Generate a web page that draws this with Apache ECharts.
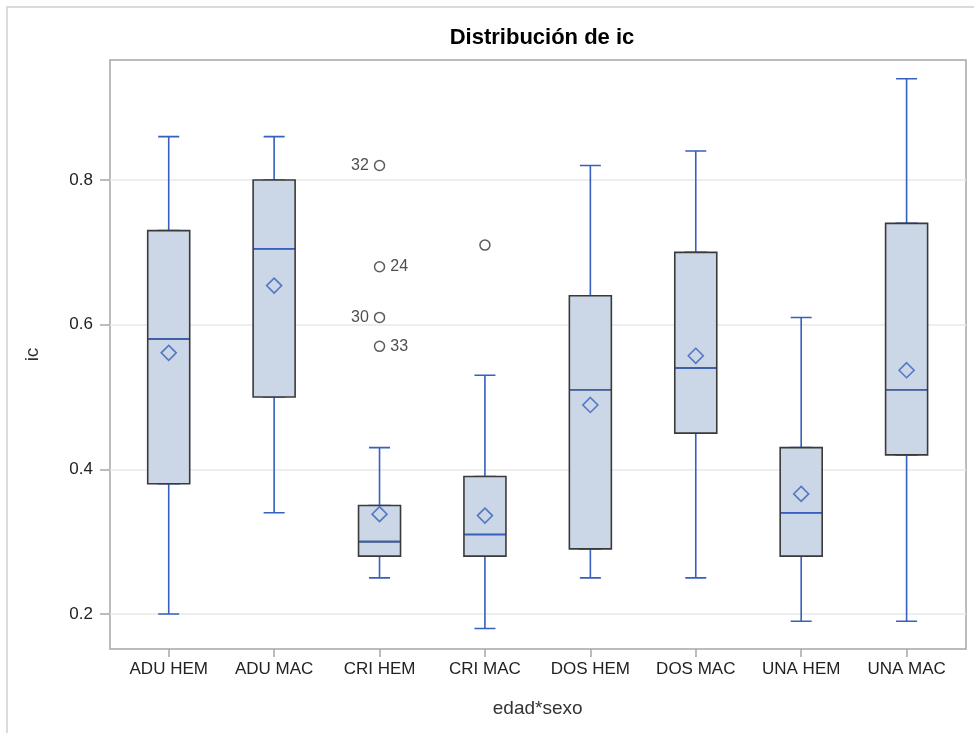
<!DOCTYPE html>
<html>
<head>
<meta charset="utf-8">
<title>Distribución de ic</title>
<script src="https://cdn.jsdelivr.net/npm/echarts@6/dist/echarts.min.js"></script>
<style>
  html, body { margin: 0; padding: 0; background: #fff; }
  #chart { width: 974px; height: 733px; }
</style>
</head>
<body>
<div id="chart"></div>
<script>
// --- datos ---
const categories = ['ADU HEM', 'ADU MAC', 'CRI HEM', 'CRI MAC', 'DOS HEM', 'DOS MAC', 'UNA HEM', 'UNA MAC'];
const whiskerLow  = [0.20, 0.34, 0.25, 0.18, 0.25, 0.25, 0.19, 0.19];
const q1Values    = [0.38, 0.50, 0.28, 0.28, 0.29, 0.45, 0.28, 0.42];
const medians     = [0.58, 0.705, 0.30, 0.31, 0.51, 0.54, 0.34, 0.51];
const q3Values    = [0.73, 0.80, 0.35, 0.39, 0.64, 0.70, 0.43, 0.74];
const whiskerHigh = [0.86, 0.86, 0.43, 0.53, 0.82, 0.84, 0.61, 0.94];
const means       = [0.561, 0.654, 0.338, 0.336, 0.489, 0.557, 0.366, 0.537];

const outlierCats   = ['CRI HEM', 'CRI HEM', 'CRI HEM', 'CRI HEM', 'CRI MAC'];
const outlierValues = [0.82, 0.68, 0.61, 0.57, 0.71];
const outlierIds    = ['32', '24', '30', '33', ''];

const yTicks = [0.2, 0.4, 0.6, 0.8];

// rango del eje Y (area del grafico)
const yMin = 0.1516;
const yMax = 0.9659;

const font = '"Liberation Sans", Arial, sans-serif';
const blue = '#3560bd';
const leftLabeled = ['32', '30'];

const chart = echarts.init(document.getElementById('chart'));

const whiskerData = categories.map((c, i) => [whiskerLow[i], q1Values[i], medians[i], q3Values[i], whiskerHigh[i]]);
const boxData = categories.map((c, i) => [q1Values[i], q1Values[i], medians[i], q3Values[i], q3Values[i]]);
const medianData = categories.map((c, i) => [medians[i], medians[i], medians[i], medians[i], medians[i]]);
const meanData = categories.map((c, i) => [c, means[i]]);
const outlierData = outlierValues.map((v, i) => ({
    value: [outlierCats[i], v],
    name: outlierIds[i],
    label: { position: leftLabeled.includes(outlierIds[i]) ? 'left' : 'right' }
}));

const hiddenCat = idx => ({
    type: 'category', gridIndex: 1, data: categories, show: false
});

const option = {
    animation: false,
    backgroundColor: '#fff',
    title: {
        text: 'Distribución de ic',
        left: 537,
        top: 22,
        textAlign: 'center',
        textStyle: { fontFamily: font, fontSize: 22, fontWeight: 'bold', color: '#000' }
    },
    graphic: [{
        type: 'rect',
        shape: { x: 7, y: 7, width: 1200, height: 1200 },
        style: { fill: 'none', stroke: '#cfcfcf', lineWidth: 1.5 },
        silent: true
    }],
    grid: [
        { left: 110, right: 8, top: 60, bottom: 84, show: true, borderColor: '#a6a6a6', borderWidth: 1.5, backgroundColor: 'transparent' },
        { left: 116, right: 14.7, top: 60, bottom: 84 }
    ],
    xAxis: [
        { type: 'value', gridIndex: 0, show: false, min: 0, max: 1 },
        {
            type: 'category', gridIndex: 1, data: categories,
            name: 'edad*sexo', nameLocation: 'middle', nameGap: 50,
            nameTextStyle: { fontFamily: font, fontSize: 19, color: '#333' },
            axisLine: { show: false },
            axisTick: { show: true, alignWithLabel: true, length: 8, lineStyle: { color: '#a6a6a6', width: 1.5 } },
            axisLabel: { fontFamily: font, fontSize: 17, color: '#222', margin: 12, interval: 0 },
            splitLine: { show: false }
        },
        hiddenCat(2),
        hiddenCat(3)
    ],
    yAxis: [
        {
            type: 'value', gridIndex: 0, min: yMin, max: yMax,
            name: 'ic', nameLocation: 'middle', nameGap: 68, nameRotate: 90,
            nameTextStyle: { fontFamily: font, fontSize: 19, color: '#333' },
            axisLine: { show: false },
            axisTick: { show: true, length: 10, customValues: yTicks, lineStyle: { color: '#a6a6a6', width: 1.5 } },
            axisLabel: { fontFamily: font, fontSize: 17, color: '#222', margin: 17, customValues: yTicks,
                         formatter: v => v.toFixed(1) },
            splitLine: { show: true, lineStyle: { color: '#e8e8e8', width: 1.5 } }
        },
        { type: 'value', gridIndex: 1, min: yMin, max: yMax, show: false, splitLine: { show: false } }
    ],
    series: [
        {
            // bigotes (cajas estrechas que luego quedan tapadas)
            type: 'boxplot', xAxisIndex: 1, yAxisIndex: 1,
            boxWidth: [21, 21], silent: true,
            itemStyle: { color: 'rgba(0,0,0,0)', borderColor: blue, borderWidth: 1.6 },
            data: whiskerData
        },
        {
            // cajas Q1-Q3
            type: 'boxplot', xAxisIndex: 2, yAxisIndex: 1,
            boxWidth: [42, 42], silent: true,
            itemStyle: { color: '#cbd6e6', borderColor: '#3a3a3a', borderWidth: 1.6 },
            data: boxData
        },
        {
            // mediana
            type: 'boxplot', xAxisIndex: 3, yAxisIndex: 1,
            boxWidth: [40, 40], silent: true,
            itemStyle: { color: 'rgba(0,0,0,0)', borderColor: blue, borderWidth: 1.6 },
            data: medianData
        },
        {
            // media
            type: 'scatter', xAxisIndex: 1, yAxisIndex: 1,
            symbol: 'diamond', symbolSize: [15, 15], silent: true, z: 5,
            itemStyle: { color: 'rgba(0,0,0,0)', borderColor: blue, borderWidth: 1.6 },
            data: meanData
        },
        {
            // valores atipicos
            type: 'scatter', xAxisIndex: 1, yAxisIndex: 1,
            symbol: 'circle', symbolSize: 10, silent: true, z: 5,
            itemStyle: { color: 'rgba(0,0,0,0)', borderColor: '#333', borderWidth: 1.5 },
            label: {
                show: true, formatter: p => p.name, distance: 5,
                fontFamily: font, fontSize: 16, color: '#222'
            },
            data: outlierData
        }
    ]
};

chart.setOption(option);
window.addEventListener('resize', () => chart.resize());
</script>
</body>
</html>
